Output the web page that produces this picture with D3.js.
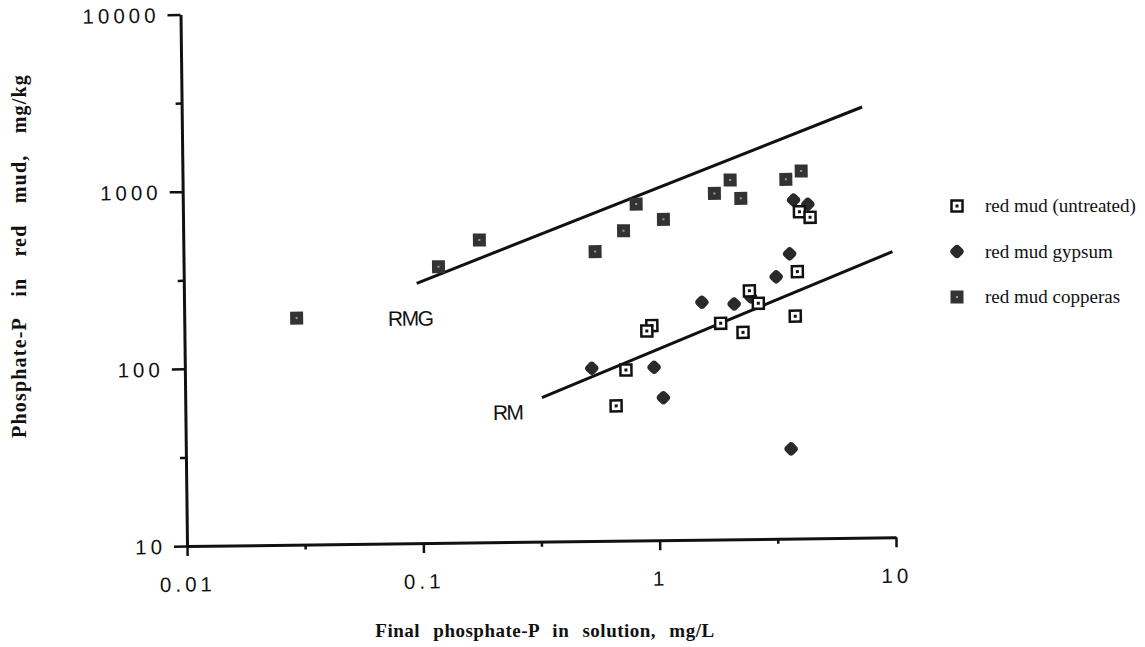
<!DOCTYPE html>
<html>
<head>
<meta charset="utf-8">
<script src="https://cdn.jsdelivr.net/npm/d3@7"></script>
<style>
  body { margin: 0; background: #fff; }
  svg { display: block; }
</style>
</head>
<body>
<div id="vis"></div>
<script>
// values (x = mg/L, y = mg/kg)
var untreatedX = [4.06, 4.50, 3.95, 3.85, 2.69, 2.47, 1.86, 2.31, 0.951, 0.905, 0.735, 0.665];
var untreatedY = [699, 649, 321, 180, 214, 252, 166, 147, 163, 152, 91.8, 57.7];

var gypsumX = [3.84, 4.41, 3.67, 3.21, 1.553, 2.126, 2.50, 0.527, 0.967, 1.055, 3.64];
var gypsumY = [815, 769, 405, 301, 219, 213, 233, 94.5, 94.7, 63.7, 32.1];

var copperasX = [0.0299, 0.1198, 0.179, 0.552, 0.730, 0.828, 1.078, 1.777, 2.075, 2.297, 3.57, 4.15];
var copperasY = [190, 362, 509, 430, 561, 792, 647, 899, 1067, 839, 1067, 1186];

// fitted lines, end points
var rmgLineX = [0.0967, 7.57];
var rmgLineY = [293, 2698];
var rmLineX = [0.323, 10];
var rmLineY = [65.0, 410];

var lineNames = ['RMG', 'RM'];
var lineNameX = [0.0728, 0.2];
var lineNameY = [169, 49];

var xTicks = [0.01, 0.1, 1, 10];
var xTickLabels = ['0.01', '0.1', '1', '10'];
var xMinorTicks = [0.0316, 0.316, 3.16];
var yTicks = [10, 100, 1000, 10000];
var yTickLabels = ['10', '100', '1000', '10000'];
var yMinorTicks = [31.6, 316, 3162];

var seriesNames = ['red mud (untreated)', 'red mud gypsum', 'red mud copperas'];

var width = 1145;
var height = 647;
var plotW = 709;
var plotH = 531.5;

var svg = d3.select('#vis')
  .append('svg')
  .attr('width', width)
  .attr('height', height)

// the scan is tilted a little, so the whole plot is turned with it
var g = svg.append('g')
  .attr('transform', 'translate(187,546) rotate(-0.7)')

var x = d3.scaleLog().domain([0.01, 10]).range([0, plotW]);
var y = d3.scaleLog().domain([10, 10000]).range([0, -plotH]);

var tickFont = 'Liberation Sans, Arial, sans-serif';
var serifFont = 'Liberation Serif, Times New Roman, serif';

// axes
var xAxis = g.append('g')
  .call(d3.axisBottom(x)
    .tickValues(xTicks)
    .tickSize(10)
    .tickSizeOuter(0)
    .tickPadding(21)
    .tickFormat(function (d, i) { return xTickLabels[i]; }))

g.append('g')
  .call(d3.axisBottom(x)
    .tickValues(xMinorTicks)
    .tickSize(5)
    .tickSizeOuter(0)
    .tickFormat(''))
  .select('.domain').remove()

var yAxis = g.append('g')
  .call(d3.axisLeft(y)
    .tickValues(yTicks)
    .tickSize(13)
    .tickSizeOuter(0)
    .tickPadding(8)
    .tickFormat(function (d, i) { return yTickLabels[i]; }))

g.append('g')
  .call(d3.axisLeft(y)
    .tickValues(yMinorTicks)
    .tickSize(6)
    .tickSizeOuter(0)
    .tickFormat(''))
  .select('.domain').remove()

g.selectAll('.domain')
  .attr('stroke', '#111')
  .attr('stroke-width', 3)
g.selectAll('.tick line')
  .attr('stroke', '#111')
  .attr('stroke-width', 2.5)
g.selectAll('.tick text')
  .attr('fill', '#111')
  .attr('font-family', tickFont)
  .attr('font-size', 20.5)
  .attr('letter-spacing', 4)
yAxis.selectAll('.tick text').attr('dy', '0.36em')

// fitted lines
var lineGen = d3.line()
  .x(function (d) { return x(d[0]); })
  .y(function (d) { return y(d[1]); })

g.append('path')
  .datum(d3.zip(rmgLineX, rmgLineY))
  .attr('d', lineGen)
  .attr('fill', 'none')
  .attr('stroke', '#111')
  .attr('stroke-width', 3)

g.append('path')
  .datum(d3.zip(rmLineX, rmLineY))
  .attr('d', lineGen)
  .attr('fill', 'none')
  .attr('stroke', '#111')
  .attr('stroke-width', 3)

g.selectAll('text.linename')
  .data(lineNames).enter()
  .append('text')
  .attr('class', 'linename')
  .attr('x', function (d, i) { return x(lineNameX[i]); })
  .attr('y', function (d, i) { return y(lineNameY[i]); })
  .attr('font-family', tickFont)
  .attr('font-size', 21)
  .attr('letter-spacing', -1.5)
  .attr('fill', '#111')
  .text(function (d) { return d; })

// marker drawing helpers
function drawUntreated(sel) {
  sel.append('rect')
    .attr('x', -5.5).attr('y', -5.5)
    .attr('width', 11).attr('height', 11)
    .attr('fill', '#fff')
    .attr('stroke', '#111')
    .attr('stroke-width', 2.5)
  sel.append('rect')
    .attr('x', -1.5).attr('y', -1.5)
    .attr('width', 3).attr('height', 3)
    .attr('fill', '#111')
}

function drawGypsum(sel) {
  sel.append('rect')
    .attr('x', -4.5).attr('y', -4.5)
    .attr('width', 9).attr('height', 9)
    .attr('rx', 2.5)
    .attr('transform', 'rotate(45)')
    .attr('fill', '#2a2a2a')
    .attr('stroke', '#2a2a2a')
    .attr('stroke-width', 2.5)
}

function drawCopperas(sel) {
  sel.append('rect')
    .attr('x', -6.5).attr('y', -6.5)
    .attr('width', 13).attr('height', 13)
    .attr('fill', '#333')
  sel.append('rect')
    .attr('x', -1).attr('y', -1)
    .attr('width', 2).attr('height', 2)
    .attr('fill', '#999')
}

g.selectAll('g.copperas')
  .data(d3.zip(copperasX, copperasY)).enter()
  .append('g')
  .attr('class', 'copperas')
  .attr('transform', function (d) { return 'translate(' + x(d[0]) + ',' + y(d[1]) + ')'; })
  .call(drawCopperas)

g.selectAll('g.gypsum')
  .data(d3.zip(gypsumX, gypsumY)).enter()
  .append('g')
  .attr('class', 'gypsum')
  .attr('transform', function (d) { return 'translate(' + x(d[0]) + ',' + y(d[1]) + ')'; })
  .call(drawGypsum)

g.selectAll('g.untreated')
  .data(d3.zip(untreatedX, untreatedY)).enter()
  .append('g')
  .attr('class', 'untreated')
  .attr('transform', function (d) { return 'translate(' + x(d[0]) + ',' + y(d[1]) + ')'; })
  .call(drawUntreated)

// axis titles
svg.append('text')
  .attr('x', 545)
  .attr('y', 637)
  .attr('text-anchor', 'middle')
  .attr('font-family', serifFont)
  .attr('font-weight', 'bold')
  .attr('font-size', 19)
  .attr('letter-spacing', 0.5)
  .attr('word-spacing', 8)
  .attr('fill', '#111')
  .text('Final phosphate-P in solution, mg/L')

svg.append('text')
  .attr('transform', 'translate(26,256) rotate(-90)')
  .attr('text-anchor', 'middle')
  .attr('font-family', serifFont)
  .attr('font-weight', 'bold')
  .attr('font-size', 20)
  .attr('letter-spacing', 1.2)
  .attr('word-spacing', 15)
  .attr('fill', '#111')
  .text('Phosphate-P in red mud, mg/kg')

// legend
var drawers = [drawUntreated, drawGypsum, drawCopperas];
var legend = svg.selectAll('g.legend')
  .data(seriesNames).enter()
  .append('g')
  .attr('class', 'legend')
  .attr('transform', function (d, i) { return 'translate(957,' + (206 + i * 45.5) + ')'; })

legend.each(function (d, i) {
  var item = d3.select(this)
  item.append('g').call(drawers[i])
  item.append('text')
    .attr('x', 28)
    .attr('y', 6)
    .attr('font-family', serifFont)
    .attr('font-size', 19)
    .attr('fill', '#111')
    .text(d)
})
</script>
</body>
</html>
